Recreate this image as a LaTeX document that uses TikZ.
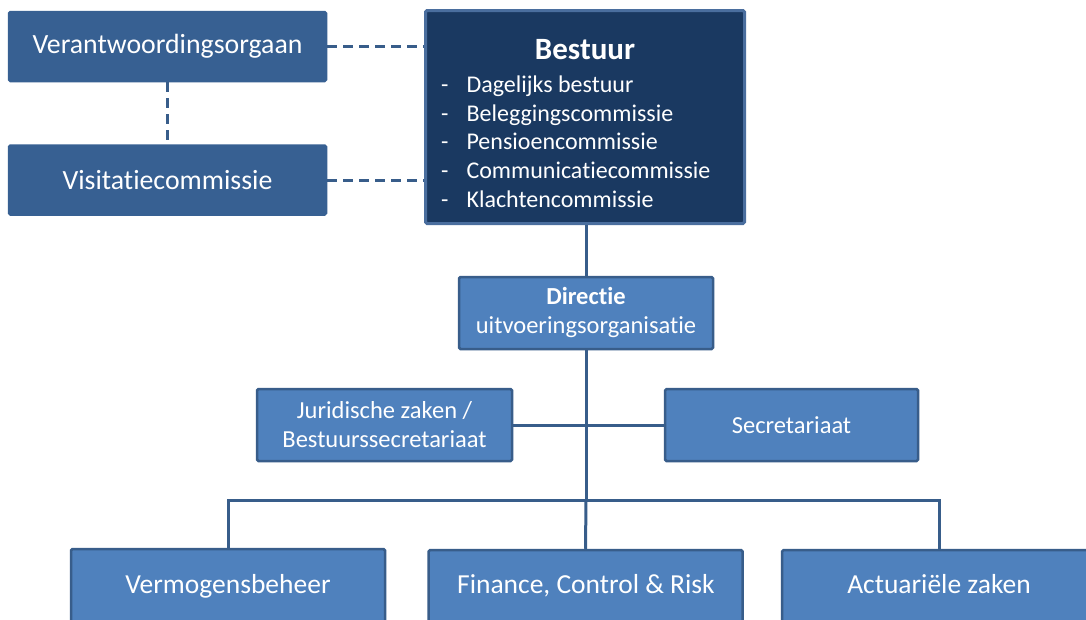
\documentclass[tikz,border=0pt]{standalone}
\usepackage{fontspec}
\setmainfont{Carlito}[Ligatures={NoCommon}]
\definecolor{navy}{HTML}{1A3961}
\definecolor{navyedge}{HTML}{4A6E9E}
\definecolor{midblue}{HTML}{376092}
\definecolor{lightblue}{HTML}{4F81BD}
\definecolor{edgeblue}{HTML}{385D8A}
\begin{document}
\begin{tikzpicture}[x=1pt,y=-1pt,
  box/.style={draw=edgeblue,line width=2.5pt,rounded corners=1.5pt,text=white,align=center,inner sep=0pt},
  topbox/.style={box,fill=midblue,draw=midblue,minimum width=317pt,minimum height=69pt,font=\fontsize{27.8}{32}\selectfont},
  midbox/.style={box,fill=lightblue,minimum width=254pt,minimum height=72pt,font=\fontsize{24.5}{29}\selectfont},
  lowbox/.style={box,fill=lightblue,minimum width=314pt,minimum height=90pt},
  lowtext/.style={text=white,font=\fontsize{27.5}{32}\selectfont,text height=19pt,text depth=6pt},
  link/.style={draw=edgeblue,line width=3pt},
  dlink/.style={link,dash pattern=on 10pt off 6pt}
]
\clip (0,0) rectangle (1086,619);
\fill[white] (0,0) rectangle (1086,619);

\node[topbox] (ver) at (167.5,46.5) {Verantwoordingsorgaan};
\node[topbox] (vis) at (167.5,180) {Visitatiecommissie};

\node[box,fill=navy,draw=navyedge,line width=3pt,minimum width=319pt,minimum height=213pt] (bes) at (585,117) {};
\node[text=white,font=\bfseries\fontsize{31}{34}\selectfont] (bestitle) at (585,50) {Bestuur};
\node[text=white,anchor=west,inner sep=0pt,font=\fontsize{24}{28.7}\selectfont,align=left] (beslist) at (441,141.5)
  {-\hspace{18pt}Dagelijks bestuur\\
   -\hspace{18pt}Beleggingscommissie\\
   -\hspace{18pt}Pensioencommissie\\
   -\hspace{18pt}Communicatiecommissie\\
   -\hspace{18pt}Klachtencommissie};

\node[midbox] (dir) at (586,313) {\textbf{Directie}\\uitvoeringsorganisatie};
\node[midbox,minimum width=255pt] (jur) at (384.5,425) {Juridische zaken /\\Bestuurssecretariaat};
\node[midbox,minimum width=253pt] (sec) at (791.5,425) {Secretariaat};

\node[lowbox] (verm) at (228,594) {};
\node[lowbox] (fin) at (585.5,595) {};
\node[lowbox] (act) at (939,595) {};
\node[lowtext] (vermt) at (228,587) {Vermogensbeheer};
\node[lowtext] (fint) at (586,587) {Finance, Control \& Risk};
\node[lowtext] (actt) at (939,587) {Actuariële zaken};

\coordinate (hub) at (586,500);

\draw[dlink] (ver.east) -- (ver.east -| bes.west);
\draw[dlink] (vis.east) -- (vis.east -| bes.west);
\draw[dlink] (ver.south) -- (vis.north);
\draw[link] (bes.south -| dir.north) -- (dir.north);
\draw[link] (dir.south) -- (hub);
\draw[link] (jur.east) -- (sec.west);
\draw[link] (verm.north) |- (hub) -| (act.north);
\draw[link] (hub) -- (fin.north);
\end{tikzpicture}
\end{document}
